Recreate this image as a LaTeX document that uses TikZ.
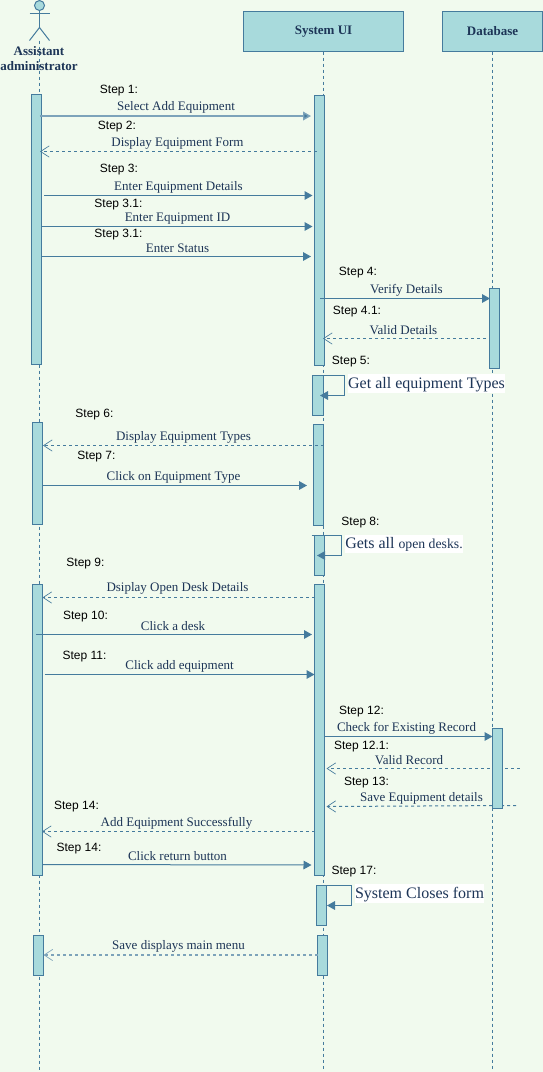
\documentclass[tikz,border=0pt]{standalone}
\usepackage{fontspec}
\setmainfont{Liberation Serif}
\newfontfamily\stepfont{Liberation Sans}
\usetikzlibrary{arrows.meta}
\definecolor{bgc}{HTML}{F1FAEE}
\definecolor{fillc}{HTML}{A8DADC}
\definecolor{linec}{HTML}{457B9D}
\definecolor{textc}{HTML}{1D3557}
\tikzset{
  x=0.75pt,y=-0.75pt,
  actbox/.style={draw=linec,fill=fillc,line width=0.75pt,inner sep=0pt,outer sep=0pt},
  headbox/.style={actbox,text=textc,font=\fontsize{9.75}{11}\selectfont\bfseries},
  lifeline/.style={draw=linec,line width=0.75pt,dash pattern=on 2.25pt off 2.25pt},
  callmsg/.style={draw=linec,line width=0.75pt,-{Triangle[length=6pt,width=6.5pt,fill=linec]}},
  retmsg/.style={draw=linec,line width=0.75pt,dash pattern=on 2.25pt off 2.25pt,-{Straight Barb[length=6.5pt,width=8.5pt,line width=0.5pt]}},
  softline/.style={draw=linec!70,line width=1.1pt},
  msgtext/.style={text=textc,font=\fontsize{9.75}{11}\selectfont,inner sep=0pt,yshift=-1pt},
  steptext/.style={text=black,font=\stepfont\fontsize{9}{11}\selectfont,inner sep=0pt,yshift=-0.9pt},
  bigtext/.style={text=textc,fill=white,inner sep=0pt,font=\fontsize{12}{14}\selectfont},
  actorline/.style={draw=linec,line width=0.75pt},
}
\newcommand{\actb}[5]{% name x1 y1 x2 y2
  \pgfmathsetmacro{\bw}{(#4-#2)*0.75}\pgfmathsetmacro{\bh}{(#5-#3)*0.75}
  \node[actbox,minimum width=\bw pt,minimum height=\bh pt] (#1) at ({(#2+#4)/2},{(#3+#5)/2}) {};}
\newcommand{\msgl}[7]{% style name x1 y1 x2 y2 extra
  \coordinate (#2a) at (#3,#4); \coordinate (#2b) at (#5,#6);
  \draw[#1,#7] (#2a) -- (#2b);}
\newcommand{\selfl}[6]{% name xstart ytop xright ybot xtip
  \coordinate (#1a) at (#2,#3); \coordinate (#1b) at (#4,#3);
  \coordinate (#1c) at (#4,#5); \coordinate (#1d) at (#6,#5);
  \draw[callmsg] (#1a) -- (#1b) -- (#1c) -- (#1d);}
\newcommand{\msgt}[4]{\node[msgtext] (#1) at (#2,#3) {#4};}
\newcommand{\stept}[4]{\node[steptext] (#1) at (#2,#3) {#4};}
\begin{document}
\begin{tikzpicture}
\useasboundingbox (0,0) rectangle (543,1072);
\fill[bgc] (0,0) rectangle (543,1072);

% lifelines
\node[headbox,minimum width=160.5*0.75pt,minimum height=40*0.75pt] (sys) at (323.5,31.5) {System UI};
\node[headbox,minimum width=100*0.75pt,minimum height=40*0.75pt] (db) at (492.5,31.5) {Database};
\coordinate (actfoot) at (39.5,40.5);
\coordinate (actend) at (39.5,1070);
\coordinate (sysend) at (323.5,1070);
\coordinate (dbend) at (492.5,1070);
\draw[lifeline] (actfoot) -- (actend);
\draw[lifeline] (sys.south) -- (sysend);
\draw[lifeline] (db.south) -- (dbend);

% actor
\node[circle,draw=linec,fill=fillc,line width=0.75pt,minimum size=7.5pt,inner sep=0pt] (head) at (39.5,5.5) {};
\coordinate (neck) at (39.5,27.5);
\coordinate (armL) at (29.5,13.5);
\coordinate (armR) at (49.5,13.5);
\coordinate (legL) at (29.5,40.5);
\coordinate (legR) at (49.5,40.5);
\draw[actorline] (head.south) -- (neck);
\draw[actorline] (armL) -- (armR);
\draw[actorline] (legL) -- (neck) -- (legR);
\node[text=textc,font=\fontsize{9.75}{11.25}\selectfont\bfseries,align=center,inner sep=0pt] (actor) at (39,59) {Assistant\\administrator};

% activation boxes
\actb{aA}{31.5}{94.5}{41.5}{364.5}
\actb{sA}{314.5}{95.5}{324.5}{365.5}
\actb{dA}{489.5}{288.5}{499.5}{368.5}
\actb{sB}{312.5}{375.5}{323}{415.5}
\actb{aB}{32.5}{422.5}{42.5}{524.5}
\actb{sC}{313.5}{424.5}{323.5}{525.5}
\actb{sD}{314.5}{535.5}{324.5}{575.5}
\actb{aC}{32.5}{584.5}{42.5}{875.5}
\actb{sE}{314.5}{584.5}{324.5}{875.5}
\actb{sF}{316.5}{885.5}{326.5}{925.5}
\actb{aD}{33.5}{935.5}{43.5}{975.5}
\actb{sG}{317.5}{935.5}{327.5}{975.5}

% messages
\msgl{callmsg}{m1}{39.5}{116}{311}{116}{softline}
\msgl{retmsg}{m2}{316.5}{151.5}{40}{151.5}{}
\msgl{callmsg}{m3}{44}{195.5}{312.5}{195.5}{}
\msgl{callmsg}{m4}{41.5}{226.5}{312.5}{226.5}{}
\msgl{callmsg}{m5}{42}{256.5}{311}{256.5}{}
\msgl{callmsg}{m6}{320}{298.5}{490}{298.5}{}
\msgl{retmsg}{m7}{486}{338.5}{323}{338.5}{}
\msgl{retmsg}{m8}{323.5}{445.5}{43}{445.5}{}
\msgl{callmsg}{m9}{42.5}{485.5}{307}{485.5}{}
\msgl{retmsg}{m10}{314.5}{597.5}{42.5}{597.5}{}
\msgl{callmsg}{m11}{36}{634.5}{312}{634.5}{}
\msgl{callmsg}{m12}{44.5}{674.5}{314.5}{674.5}{}
\msgl{callmsg}{m13}{324.5}{736.5}{492.5}{736.5}{}
\msgl{retmsg}{m14}{519.5}{768.5}{326.5}{768.5}{}
\msgl{retmsg}{m15}{516}{805.5}{326.5}{806.5}{}
\msgl{retmsg}{m16}{314.5}{831.5}{42}{831.5}{}
\msgl{callmsg}{m17}{42.5}{864.5}{311.5}{865}{}
\msgl{retmsg}{m18}{317.5}{955}{43.5}{955}{softline}
\actb{dB}{492.5}{728.5}{502.5}{808.5}

% self calls
\selfl{l1}{323}{375.5}{344.5}{395.5}{320}
\selfl{l2}{311.5}{535.5}{341.5}{555.5}{317}
\selfl{l3}{326.5}{885.5}{351.5}{905.5}{327}

% message labels
\msgt{t1}{176}{106.5}{Select Add Equipment}
\msgt{t2}{177.5}{142}{Display Equipment Form}
\msgt{t3}{178.5}{186}{Enter Equipment Details}
\msgt{t4}{177.5}{217}{Enter Equipment ID}
\msgt{t5}{177.5}{247}{Enter Status}
\msgt{t6}{406.5}{289}{Verify Details}
\msgt{t7}{403.5}{329}{Valid Details}
\msgt{t8}{183.5}{436}{Display Equipment Types}
\msgt{t9}{173.5}{476}{Click on Equipment Type}
\msgt{t10}{177.5}{587.5}{Dsiplay Open Desk Details}
\msgt{t11}{173}{624.5}{Click a desk}
\msgt{t12}{179.5}{665}{Click add equipment}
\msgt{t13}{406.5}{727}{Check for Existing Record}
\msgt{t14}{409}{759}{Valid Record}
\msgt{t15}{421.5}{797}{Save Equipment details}
\msgt{t16}{176.5}{822}{Add Equipment Successfully}
\msgt{t17}{177.5}{855}{Click return button}
\msgt{t18}{178.5}{945}{Save displays main menu}

% self-call labels
\node[bigtext] (b1) at (426.5,383.5) {\rule[-3pt]{0pt}{14pt}Get all equipment Types};
\node[bigtext] (b2) at (404,544) {\rule[-3pt]{0pt}{13pt}{\fontsize{12}{14}\selectfont Gets all} {\fontsize{10.3}{12}\selectfont open desks.}};
\node[bigtext] (b3) at (419.5,893.5) {\rule[-3pt]{0pt}{14pt}System Closes form};

% step labels
\stept{s1}{119}{89.5}{Step 1:}
\stept{s2}{117}{125.5}{Step 2:}
\stept{s3}{119}{168.5}{Step 3:}
\stept{s4}{118.5}{203.5}{Step 3.1:}
\stept{s5}{118.5}{233.5}{Step 3.1:}
\stept{s6}{358}{271.5}{Step 4:}
\stept{s7}{357}{310.5}{Step 4.1:}
\stept{s8}{351}{360.5}{Step 5:}
\stept{s9}{94.5}{413.5}{Step 6:}
\stept{s10}{96.5}{455.5}{Step 7:}
\stept{s11}{360.5}{521.5}{Step 8:}
\stept{s12}{85.5}{562.5}{Step 9:}
\stept{s13}{85.5}{615.5}{Step 10:}
\stept{s14}{84.5}{655.5}{Step 11:}
\stept{s15}{361.5}{710.5}{Step 12:}
\stept{s16}{361.5}{745.5}{Step 12.1:}
\stept{s17}{366.5}{781.5}{Step 13:}
\stept{s18}{76.5}{805.5}{Step 14:}
\stept{s19}{79}{847.5}{Step 14:}
\stept{s20}{354}{870.5}{Step 17:}
\end{tikzpicture}
\end{document}
